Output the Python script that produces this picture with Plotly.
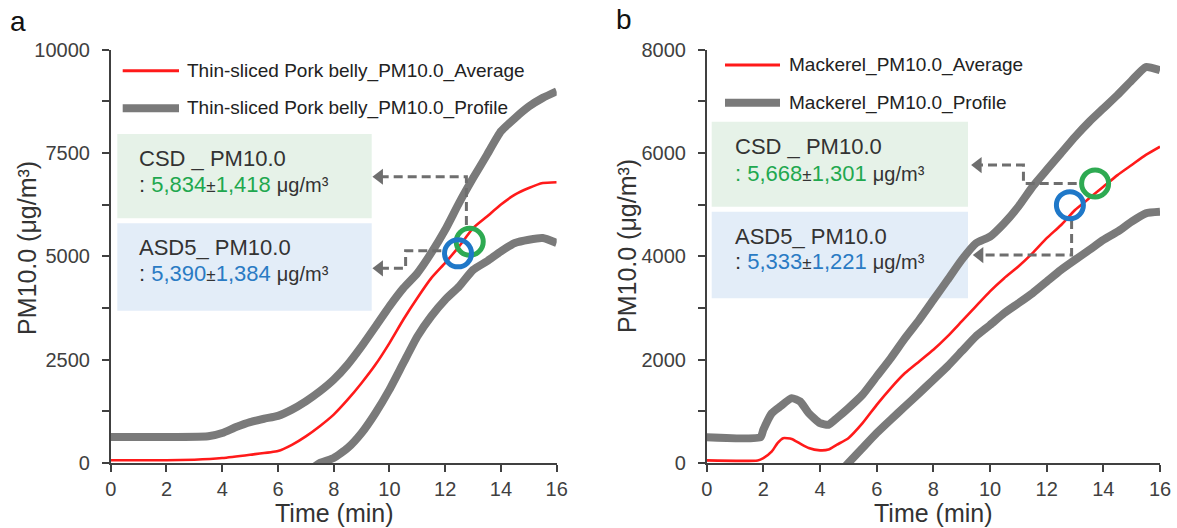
import plotly.graph_objects as go

W, H = 1177, 528

# ---------------- data: panel a (Thin-sliced Pork belly) ----------------
a_avg_t = [0, 2, 3, 4, 5, 6, 6.5, 7, 7.5, 8, 8.5, 9, 9.5, 10, 10.5, 11, 11.5, 12, 12.5, 13, 13.5, 14, 14.5, 15, 15.5, 16]
a_avg_v = [65, 65, 80, 120, 200, 290, 440, 645, 890, 1170, 1530, 1935, 2380, 2900, 3470, 3990, 4470, 4840, 5240, 5680, 5960, 6250, 6490, 6650, 6770, 6790]
a_up_t = [0, 3.5, 4, 4.5, 5, 5.5, 6, 6.5, 7, 7.5, 8, 8.5, 9, 9.5, 10, 10.5, 11, 11.5, 12, 12.5, 13, 13.5, 14, 14.5, 15, 15.5, 16]
a_up_v = [630, 645, 725, 870, 990, 1070, 1140, 1290, 1490, 1730, 2015, 2380, 2820, 3300, 3790, 4230, 4590, 5080, 5640, 6290, 6890, 7455, 8020, 8340, 8620, 8830, 8990]
a_lo_t = [7, 7.5, 8, 8.5, 9, 9.5, 10, 10.5, 11, 11.5, 12, 12.5, 13, 13.5, 14, 14.5, 15, 15.5, 16]
a_lo_v = [-250, 0, 120, 360, 725, 1210, 1775, 2420, 3060, 3550, 3950, 4270, 4670, 4880, 5120, 5320, 5400, 5440, 5320]

# ---------------- data: panel b (Mackerel) ----------------
b_avg_t = [0, 1.8, 2, 2.3, 2.5, 2.7, 3, 3.3, 3.6, 4, 4.3, 4.6, 5, 5.5, 6, 6.5, 7, 7.5, 8, 8.5, 9, 9.5, 10, 10.5, 11, 11.5, 12, 12.5, 13, 13.5, 14, 14.5, 15, 15.5, 16]
b_avg_v = [50, 50, 95, 225, 385, 480, 465, 375, 290, 245, 260, 355, 480, 770, 1125, 1450, 1740, 1965, 2190, 2450, 2740, 3030, 3320, 3575, 3800, 4060, 4350, 4600, 4895, 5120, 5345, 5570, 5765, 5960, 6120]
b_up_t = [0, 1.9, 2, 2.3, 2.6, 3, 3.3, 3.6, 4, 4.3, 4.6, 5, 5.5, 6, 6.5, 7, 7.5, 8, 8.5, 9, 9.5, 10, 10.5, 11, 11.5, 12, 12.5, 13, 13.5, 14, 14.5, 15, 15.5, 16]
b_up_v = [500, 500, 645, 965, 1095, 1255, 1190, 965, 770, 740, 870, 1060, 1320, 1675, 2030, 2415, 2770, 3155, 3540, 3930, 4250, 4380, 4640, 4960, 5345, 5670, 5990, 6310, 6600, 6860, 7120, 7400, 7660, 7600]
b_lo_t = [4.5, 5, 5.5, 6, 6.5, 7, 7.5, 8, 8.5, 9, 9.5, 10, 10.5, 11, 11.5, 12, 12.5, 13, 13.5, 14, 14.5, 15, 15.5, 16]
b_lo_v = [-300, 0, 290, 580, 840, 1095, 1350, 1610, 1870, 2160, 2450, 2670, 2900, 3090, 3285, 3510, 3735, 3930, 4120, 4315, 4475, 4670, 4830, 4860]

# reading points marked by circles (time, value)
csd_pt = [(12.88, 5350), (13.71, 5409)]
asd_pt = [(12.46, 5070), (12.82, 4989)]

# box texts
sample_names = ["Thin-sliced Pork belly", "Mackerel"]
csd_mean = ["5,834", "5,668"]
csd_sd = ["1,418", "1,301"]
asd_mean = ["5,390", "5,333"]
asd_sd = ["1,384", "1,221"]

# dashed leader paths (time, value)
csd_path_x = [[12.76, 12.76, 9.64], [13.06, 11.18, 11.18, 9.58]]
csd_path_y = [[5754, 6922, 6922], [5409, 5409, 5763, 5763]]
asd_path_x = [[11.86, 10.58, 10.58, 9.64], [12.88, 12.88, 9.64]]
asd_path_y = [[5133, 5133, 4707, 4707], [4699, 4022, 4022]]

# ---------------- styling ----------------
FONT = "Arial, Liberation Sans, sans-serif"
RED = "#ff1a1a"
GRAY = "#7a7a7a"
DASH = "#6e6e6e"
GREEN = "#1fa84f"
BLUE = "#2a7bc4"
AXC = "#404040"
TXT = "#333333"
GREEN_BG = "#e6f2e8"
BLUE_BG = "#e3edf8"


def px(x):
    return x / W


def py(y):
    return 1 - y / H


fig = go.Figure()

panels = [
    dict(xa="x", ya="y", avg=(a_avg_t, a_avg_v), up=(a_up_t, a_up_v), lo=(a_lo_t, a_lo_v)),
    dict(xa="x2", ya="y2", avg=(b_avg_t, b_avg_v), up=(b_up_t, b_up_v), lo=(b_lo_t, b_lo_v)),
]

for i, p in enumerate(panels):
    for key in ("up", "lo"):
        fig.add_trace(go.Scatter(x=p[key][0], y=p[key][1], mode="lines", xaxis=p["xa"], yaxis=p["ya"],
                                 line=dict(color=GRAY, width=8, shape="spline", smoothing=0.5),
                                 showlegend=False, hoverinfo="skip"))
    fig.add_trace(go.Scatter(x=p["avg"][0], y=p["avg"][1], mode="lines", xaxis=p["xa"], yaxis=p["ya"],
                             line=dict(color=RED, width=2.6, shape="spline", smoothing=0.5),
                             showlegend=False, hoverinfo="skip"))
    # dashed leaders
    for xs, ys in ((csd_path_x[i], csd_path_y[i]), (asd_path_x[i], asd_path_y[i])):
        fig.add_trace(go.Scatter(x=xs, y=ys, mode="lines", xaxis=p["xa"], yaxis=p["ya"],
                                 line=dict(color=DASH, width=3, dash="9px,5px"),
                                 showlegend=False, hoverinfo="skip"))
        fig.add_trace(go.Scatter(x=[xs[-1]], y=[ys[-1]], mode="markers", xaxis=p["xa"], yaxis=p["ya"],
                                 marker=dict(symbol="triangle-left", size=14, color=DASH),
                                 showlegend=False, hoverinfo="skip"))
    # circles
    fig.add_trace(go.Scatter(x=[csd_pt[i][0]], y=[csd_pt[i][1]], mode="markers", xaxis=p["xa"], yaxis=p["ya"],
                             marker=dict(symbol="circle-open", size=27, color="#2eaa52", line=dict(width=5)),
                             showlegend=False, hoverinfo="skip"))
    fig.add_trace(go.Scatter(x=[asd_pt[i][0]], y=[asd_pt[i][1]], mode="markers", xaxis=p["xa"], yaxis=p["ya"],
                             marker=dict(symbol="circle-open", size=27, color="#1f78c8", line=dict(width=5)),
                             showlegend=False, hoverinfo="skip"))

shapes = []
annotations = []

# layout geometry (pixels)
geo = [
    dict(x0=110.7, x1=556.7, ylab_x=27, ylab_y=248, xlab_x=334, letter="a", let_x=18, let_y=22,
         box_x0=117.3, box_x1=371.7, g_y0=134, g_y1=218.3, b_y0=223.3, b_y1=310.7,
         tx=137.3, csd_y=(158.3, 185), asd_y=(247.3, 273.3),
         leg_x0=122.7, leg_x1=179, leg_tx=185, leg_y=(70.7, 108.3), csd_colon=TXT),
    dict(x0=706.7, x1=1160, ylab_x=627, ylab_y=246, xlab_x=934, letter="b", let_x=624, let_y=20,
         box_x0=711.7, box_x1=968, g_y0=121.7, g_y1=206.7, b_y0=211.7, b_y1=298.3,
         tx=732.7, csd_y=(146.7, 173.3), asd_y=(236.7, 261.7),
         leg_x0=725, leg_x1=780, leg_tx=786.7, leg_y=(65, 102.7), csd_colon=GREEN),
]

for i, g in enumerate(geo):
    # boxes
    shapes.append(dict(type="rect", xref="paper", yref="paper", layer="below",
                       x0=px(g["box_x0"]), x1=px(g["box_x1"]), y0=py(g["g_y1"]), y1=py(g["g_y0"]),
                       fillcolor=GREEN_BG, line=dict(width=0)))
    shapes.append(dict(type="rect", xref="paper", yref="paper", layer="below",
                       x0=px(g["box_x0"]), x1=px(g["box_x1"]), y0=py(g["b_y1"]), y1=py(g["b_y0"]),
                       fillcolor=BLUE_BG, line=dict(width=0)))
    # legend samples
    shapes.append(dict(type="line", xref="paper", yref="paper", x0=px(g["leg_x0"]), x1=px(g["leg_x1"]),
                       y0=py(g["leg_y"][0]), y1=py(g["leg_y"][0]), line=dict(color=RED, width=3)))
    shapes.append(dict(type="line", xref="paper", yref="paper", x0=px(g["leg_x0"]), x1=px(g["leg_x1"]),
                       y0=py(g["leg_y"][1]), y1=py(g["leg_y"][1]), line=dict(color=GRAY, width=8)))
    for j, suffix in enumerate(["Average", "Profile"]):
        annotations.append(dict(xref="paper", yref="paper", x=px(g["leg_tx"]), y=py(g["leg_y"][j]),
                                xanchor="left", yanchor="middle", showarrow=False,
                                text=f"{sample_names[i]}_PM10.0_{suffix}",
                                font=dict(family=FONT, size=19, color="#222222")))
    # box texts
    annotations.append(dict(xref="paper", yref="paper", x=px(g["tx"]), y=py(g["csd_y"][0]),
                            xanchor="left", yanchor="middle", showarrow=False, text="CSD _ PM10.0",
                            font=dict(family=FONT, size=22, color=TXT)))
    annotations.append(dict(xref="paper", yref="paper", x=px(g["tx"]), y=py(g["csd_y"][1]),
                            xanchor="left", yanchor="middle", showarrow=False,
                            text=(f"<span style='color:{g['csd_colon']}'>:</span> "
                                  f"<span style='color:{GREEN}'>{csd_mean[i]}</span>"
                                  f"<span style='font-size:17px'>±</span>"
                                  f"<span style='color:{GREEN}'>{csd_sd[i]}</span> "
                                  f"<span style='font-size:20px'>μg/m³</span>"),
                            font=dict(family=FONT, size=22, color=TXT)))
    annotations.append(dict(xref="paper", yref="paper", x=px(g["tx"]), y=py(g["asd_y"][0]),
                            xanchor="left", yanchor="middle", showarrow=False, text="ASD5_ PM10.0",
                            font=dict(family=FONT, size=22, color=TXT)))
    annotations.append(dict(xref="paper", yref="paper", x=px(g["tx"]), y=py(g["asd_y"][1]),
                            xanchor="left", yanchor="middle", showarrow=False,
                            text=(f": <span style='color:{BLUE}'>{asd_mean[i]}</span>"
                                  f"<span style='font-size:17px'>±</span>"
                                  f"<span style='color:{BLUE}'>{asd_sd[i]}</span> "
                                  f"<span style='font-size:20px'>μg/m³</span>"),
                            font=dict(family=FONT, size=22, color=TXT)))
    # axis titles
    annotations.append(dict(xref="paper", yref="paper", x=px(g["xlab_x"]), y=py(513),
                            xanchor="center", yanchor="middle", showarrow=False, text="Time (min)",
                            font=dict(family=FONT, size=25, color=TXT)))
    annotations.append(dict(xref="paper", yref="paper", x=px(g["ylab_x"]), y=py(g["ylab_y"]),
                            xanchor="center", yanchor="middle", showarrow=False, textangle=-90,
                            text="PM10.0 (μg/m³)", font=dict(family=FONT, size=25, color=TXT)))
    annotations.append(dict(xref="paper", yref="paper", x=px(g["let_x"]), y=py(g["let_y"]),
                            xanchor="center", yanchor="middle", showarrow=False, text=g["letter"],
                            font=dict(family=FONT, size=28, color="#111111")))

ydom = [py(463), py(49.5)]


def xaxis(g):
    return dict(domain=[px(g["x0"]), px(g["x1"])], range=[0, 16], dtick=2, tick0=0,
                showline=True, linecolor=AXC, linewidth=1.6, ticks="outside", ticklen=7,
                tickwidth=1.6, tickcolor=AXC, showgrid=False, zeroline=False,
                tickfont=dict(family=FONT, size=20, color=AXC), automargin=False,
                ticklabelstandoff=0, fixedrange=True)


def yaxis(anchor, ymax, dt):
    return dict(domain=ydom, range=[0, ymax], dtick=dt, tick0=0, anchor=anchor, tickformat="d",
                showline=True, linecolor=AXC, linewidth=1.6, ticks="outside", ticklen=7,
                tickwidth=1.6, tickcolor=AXC, showgrid=False, zeroline=False,
                minor=dict(dtick=dt / 2, ticks="outside", ticklen=7, tickwidth=1.6, tickcolor=AXC,
                           showgrid=False),
                tickfont=dict(family=FONT, size=20, color=AXC), automargin=False,
                ticklabelstandoff=8, fixedrange=True)


fig.update_layout(
    width=W, height=H,
    margin=dict(l=0, r=0, t=0, b=0),
    paper_bgcolor="white", plot_bgcolor="white",
    xaxis=dict(**xaxis(geo[0]), anchor="y"),
    yaxis=yaxis("x", 10000, 2500),
    xaxis2=dict(**xaxis(geo[1]), anchor="y2"),
    yaxis2=yaxis("x2", 8000, 2000),
    shapes=shapes,
    annotations=annotations,
    showlegend=False,
)

fig.write_html("out.html")
